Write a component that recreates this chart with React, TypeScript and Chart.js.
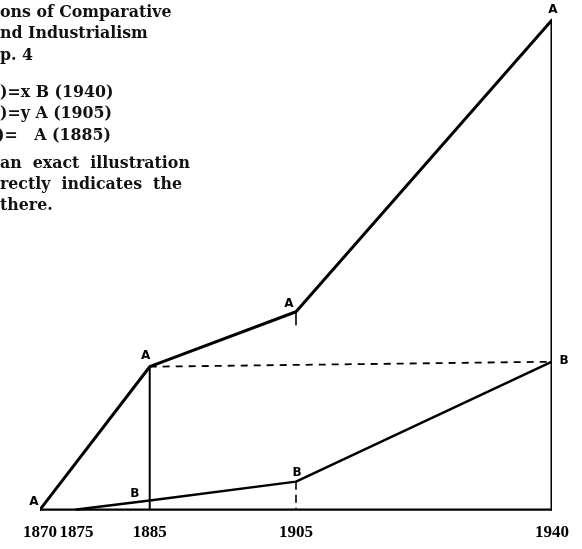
import React, { useEffect, useRef } from "react";
import { Chart, registerables } from "chart.js";

Chart.register(...registerables);

// ---- data ----
const tickYears = [1870, 1875, 1885, 1905, 1940];
const seriesAYears = [1870, 1885, 1905, 1940];
const seriesA = [0, 143, 198, 490];
const seriesBYears = [1875, 1885, 1905, 1940];
const seriesB = [0, 9, 28, 148];
const textLines = [
  "ons of Comparative",
  "nd Industrialism",
  "p. 4",
  ")=x B (1940)",
  ")=y A (1905)",
  ")=   A (1885)",
  "an  exact  illustration",
  "rectly  indicates  the",
  "there.",
];

// ---- styles / layout ----
const textTops = [2, 23, 45, 82, 103, 125, 153, 174, 195];
const textLefts = [0, 0, 0, 0, 0, -3, 0, 0, 0];
const labelOffsetsA = [[-6, -8], [-4, -11], [-7, -8], [1, -10]];
const labelOffsetsB = [[0, 0], [-15, -7], [1, -9], [12, -1]];

const App: React.FC = () => {
  const ref = useRef<HTMLCanvasElement | null>(null);

  useEffect(() => {
    if (!ref.current) return;
    const pts = (xs: number[], ys: number[]) => xs.map((x, i) => ({ x, y: ys[i] }));
    const aLast = seriesA.length - 1;
    const bLast = seriesB.length - 1;
    const i1885 = seriesAYears.indexOf(1885);
    const i1905A = seriesAYears.indexOf(1905);
    const i1905B = seriesBYears.indexOf(1905);

    const base = {
      showLine: true,
      pointRadius: 0,
      pointHoverRadius: 0,
      borderColor: "#000",
      backgroundColor: "#000",
      fill: false,
      tension: 0,
      borderJoinStyle: "round",
      borderCapStyle: "round",
    };

    const labelPlugin = {
      id: "pointLetters",
      afterDatasetsDraw(chart: any) {
        const { ctx } = chart;
        const xs = chart.scales.x;
        const ys = chart.scales.y;
        ctx.save();
        ctx.fillStyle = "#000";
        ctx.font = "bold 12px 'DejaVu Sans'";
        ctx.textAlign = "center";
        ctx.textBaseline = "middle";
        seriesAYears.forEach((yr, i) => {
          const [dx, dy] = labelOffsetsA[i];
          ctx.fillText("A", xs.getPixelForValue(yr) + dx, ys.getPixelForValue(seriesA[i]) + dy);
        });
        seriesBYears.forEach((yr, i) => {
          if (i === 0) return;
          const [dx, dy] = labelOffsetsB[i];
          ctx.fillText("B", xs.getPixelForValue(yr) + dx, ys.getPixelForValue(seriesB[i]) + dy);
        });
        ctx.restore();
      },
    };

    const chart = new Chart(ref.current, {
      type: "scatter",
      data: {
        datasets: [
          // baseline
          { ...base, data: [{ x: tickYears[0], y: 0 }, { x: tickYears[tickYears.length - 1], y: 0 }], borderWidth: 2.4, borderCapStyle: "butt" },
          // series A and its drop at the end
          { ...base, data: [...pts(seriesAYears, seriesA), { x: seriesAYears[aLast], y: 0 }], borderWidth: 3 },
          // series B
          { ...base, data: pts(seriesBYears, seriesB), borderWidth: 2.5 },
          // vertical at 1885
          { ...base, data: [{ x: 1885, y: seriesA[i1885] }, { x: 1885, y: 0 }], borderWidth: 2 },
          // dashed link A(1885) -> B(1940)
          {
            ...base,
            data: [{ x: 1885, y: seriesA[i1885] }, { x: seriesBYears[bLast], y: seriesB[bLast] }],
            borderWidth: 1.8,
            borderDash: [7, 6],
            borderCapStyle: "butt",
          },
          // dashed vertical at 1905 below B
          {
            ...base,
            data: [{ x: 1905, y: seriesB[i1905B] }, { x: 1905, y: 0 }],
            borderWidth: 1.6,
            borderDash: [8, 5],
            borderCapStyle: "butt",
          },
          // small tick under A(1905)
          {
            ...base,
            data: [{ x: 1905, y: seriesA[i1905A] }, { x: 1905, y: seriesA[i1905A] - 13 }],
            borderWidth: 1.6,
          },
        ],
      },
      options: {
        animation: false,
        responsive: false,
        devicePixelRatio: 1,
        events: [],
        layout: { padding: { left: 40, right: 30, top: 10, bottom: 3 } },
        plugins: {
          legend: { display: false },
          tooltip: { enabled: false },
          title: { display: false },
        },
        scales: {
          x: {
            type: "linear",
            min: 1870,
            max: 1940,
            grid: { display: false, drawTicks: false, tickLength: 0 },
            border: { display: false },
            afterBuildTicks: (scale: any) => {
              scale.ticks = tickYears.map((v) => ({ value: v }));
            },
            ticks: {
              autoSkip: false,
              maxRotation: 0,
              padding: 3,
              color: "#000",
              font: { family: "'Liberation Serif'", size: 17, weight: "bold" },
              callback: (v: any) => String(v),
            },
          },
          y: {
            type: "linear",
            display: false,
            min: -10,
            max: 500,
          },
        },
      },
      plugins: [labelPlugin],
    } as any);
    return () => chart.destroy();
  }, []);

  return (
    <div
      style={{
        position: "fixed",
        left: 0,
        top: 0,
        width: 582,
        height: 549,
        overflow: "hidden",
        background: "#fff",
      }}
    >
      <canvas ref={ref} width={582} height={549} style={{ position: "absolute", left: 0, top: 0 }} />
      {textLines.map((t, i) => (
        <div
          key={i}
          style={{
            position: "absolute",
            left: textLefts[i],
            top: textTops[i],
            fontFamily: "'DejaVu Serif', serif",
            fontWeight: "bold",
            fontSize: 15.8,
            lineHeight: "20px",
            whiteSpace: "pre",
            color: "#111",
          }}
        >
          {t}
        </div>
      ))}
    </div>
  );
};

export default App;
